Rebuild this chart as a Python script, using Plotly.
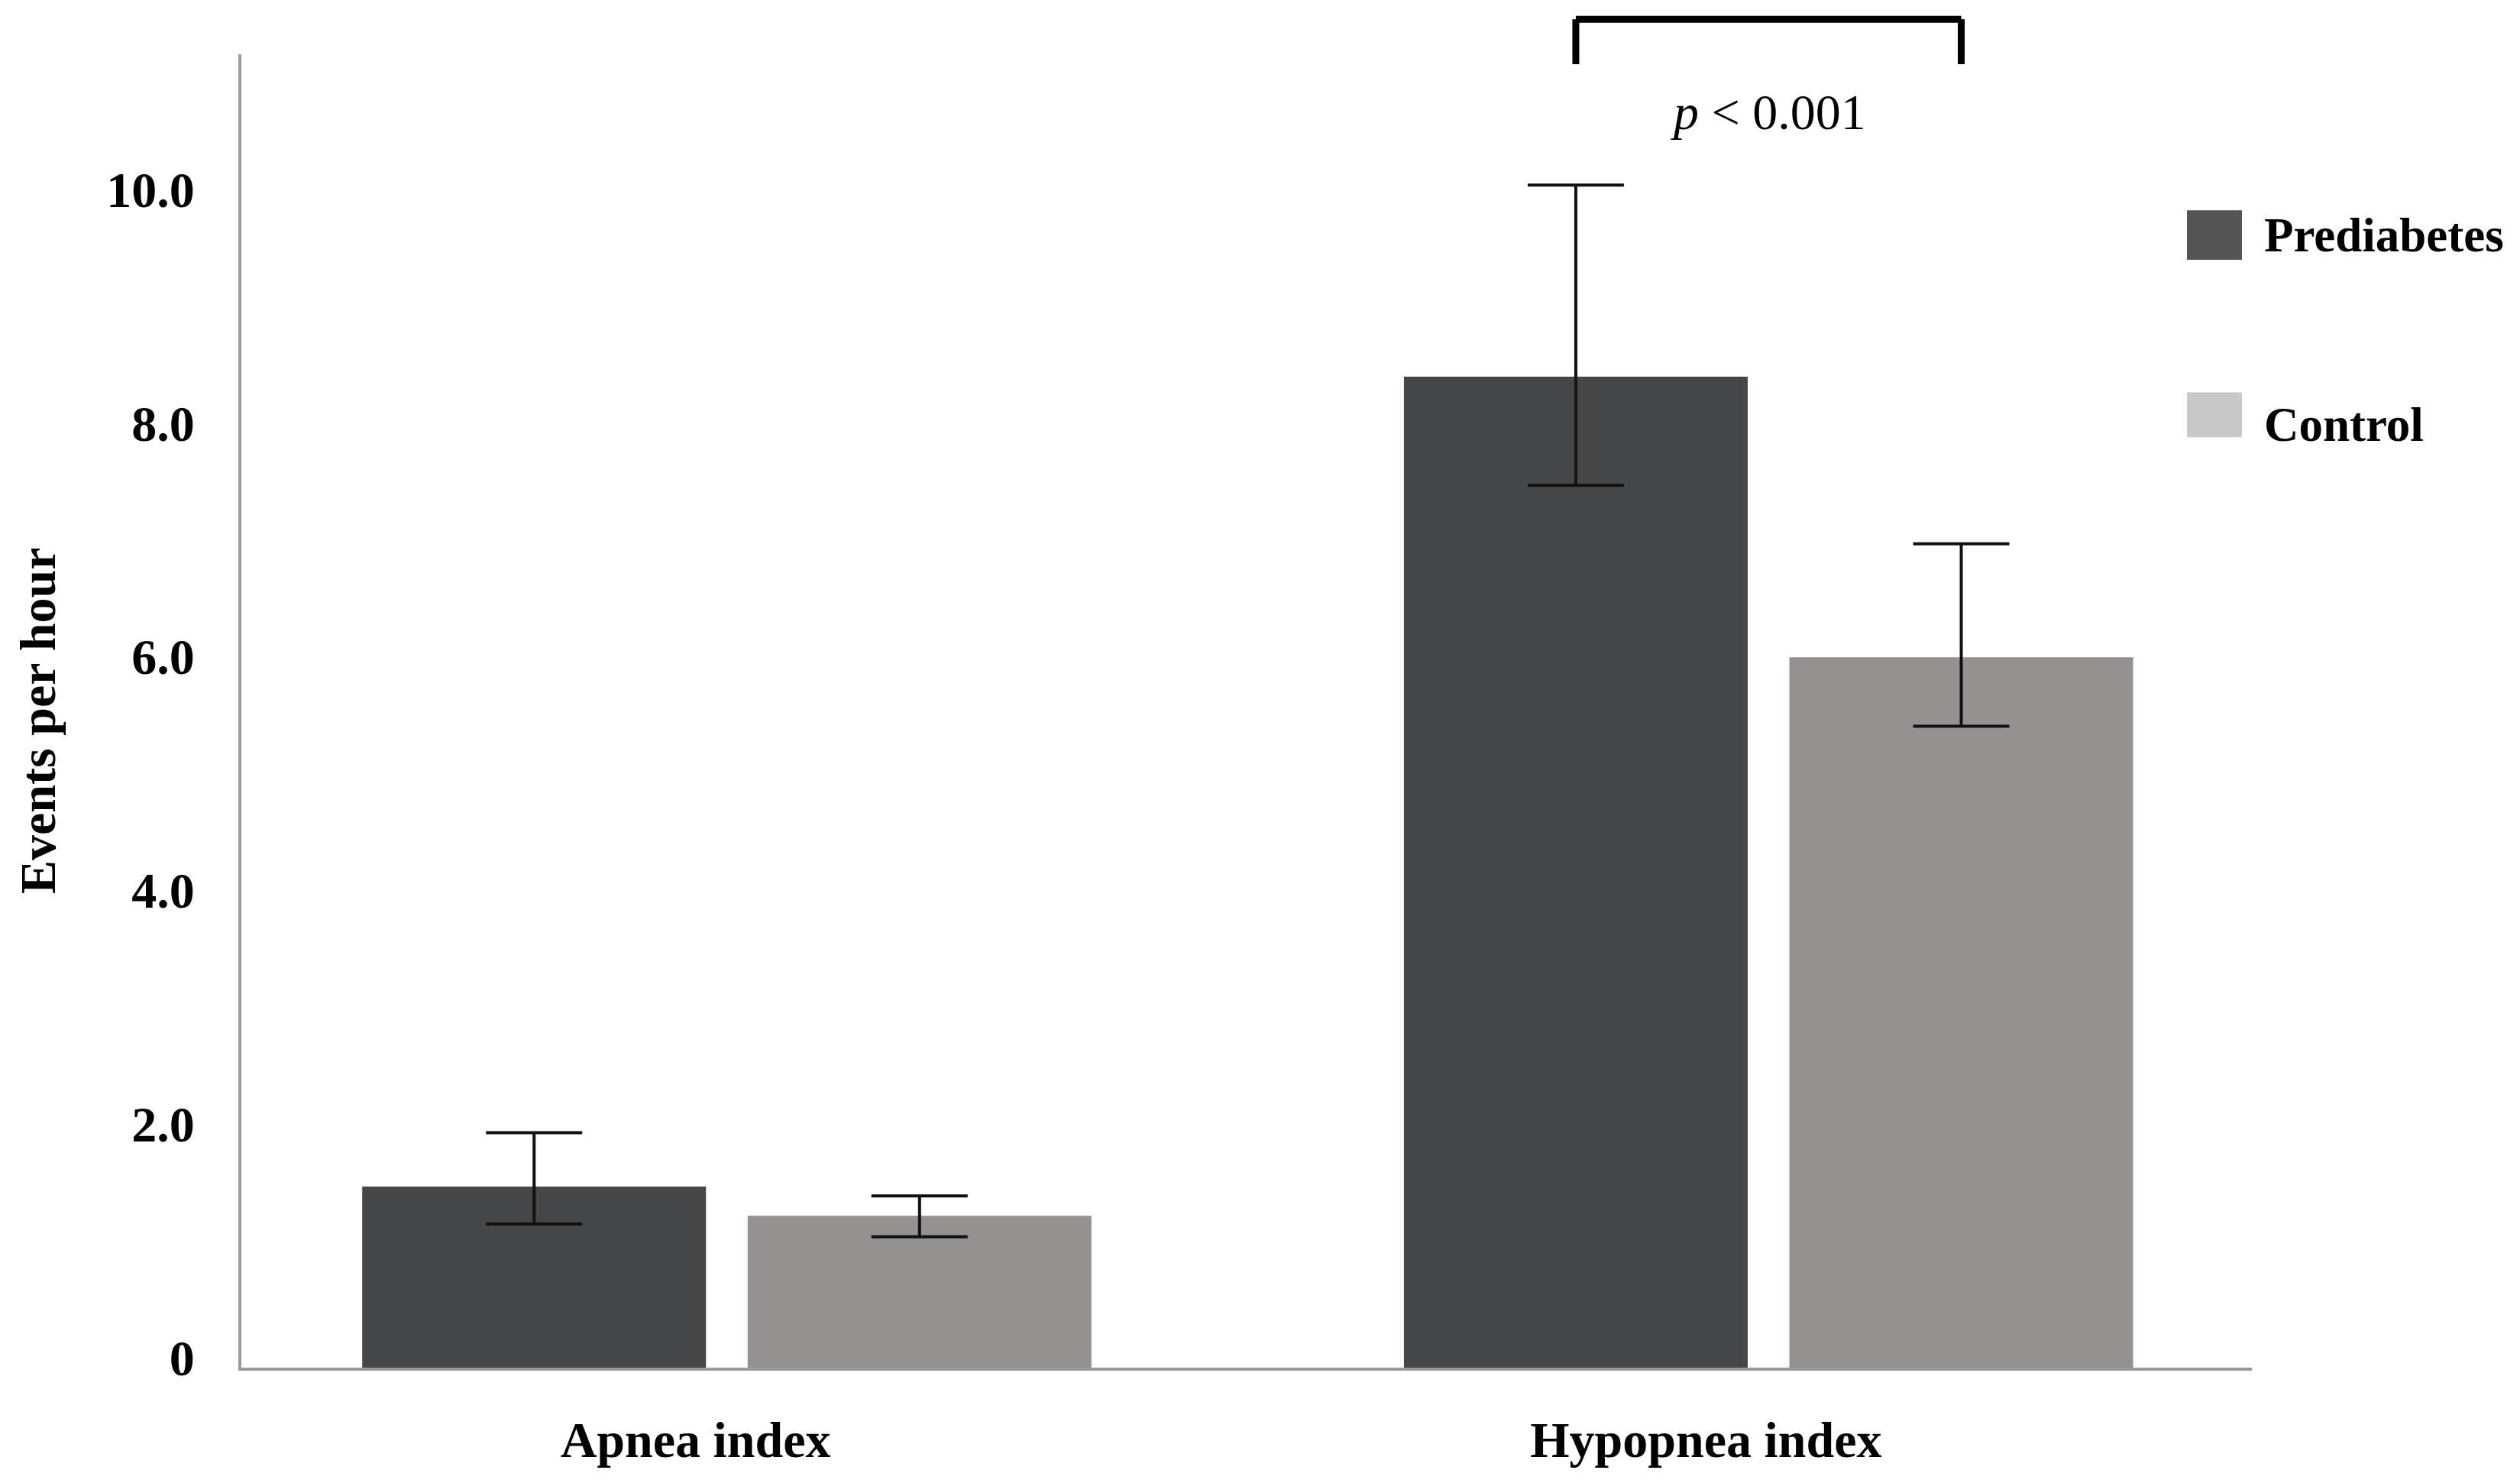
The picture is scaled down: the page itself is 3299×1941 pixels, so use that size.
import plotly.graph_objects as go

categories = ["Apnea index", "Hypopnea index"]
cat_pos = [0, 1]
label_pos = [-0.03, 0.94]
prediabetes = [1.55, 8.48]
pred_err_plus = [0.46, 1.64]
pred_err_minus = [0.32, 0.93]
control = [1.30, 6.08]
ctrl_err_plus = [0.17, 0.97]
ctrl_err_minus = [0.18, 0.59]
y_ticks = [0, 2, 4, 6, 8, 10]
y_tick_text = ["0", "2.0", "4.0", "6.0", "8.0", "10.0"]

W, H = 3299, 1941
OFF = 8  # default page body margin
FW, FH = W - 2 * OFF, H - 2 * OFF
L, R, T, B = 316, 2948, 71, 1796  # page coordinates of plot area
PW, PH = R - L, B - T

def px(x):
    return (x - L) / PW

def py(y):
    return (B - y) / PH

FONT = "Liberation Serif"
err_color = "#111111"

fig = go.Figure()
fig.add_trace(go.Bar(
    x=cat_pos, y=prediabetes, name="Prediabetes", offset=-0.35, width=0.33,
    marker=dict(color="#464749", line=dict(width=0)),
    error_y=dict(type="data", symmetric=False, array=pred_err_plus, arrayminus=pred_err_minus,
                 color=err_color, thickness=4, width=63),
    showlegend=False,
))
fig.add_trace(go.Bar(
    x=cat_pos, y=control, name="Control", offset=0.02, width=0.33,
    marker=dict(color="#959190", line=dict(width=0)),
    error_y=dict(type="data", symmetric=False, array=ctrl_err_plus, arrayminus=ctrl_err_minus,
                 color=err_color, thickness=4, width=63),
    showlegend=False,
))

fig.update_layout(
    width=FW, height=FH,
    margin=dict(l=L - OFF, r=FW - (R - OFF), t=T - OFF, b=FH - (B - OFF), pad=0),
    plot_bgcolor="white", paper_bgcolor="white",
    barmode="overlay",
    font=dict(family=FONT, size=66, color="black"),
    xaxis=dict(
        range=[-0.466, 1.464], tickvals=label_pos, ticktext=categories,
        showline=True, linecolor="#9a9a9a", linewidth=4, showgrid=False, zeroline=False,
        ticks="outside", ticklen=34, tickcolor="rgba(0,0,0,0)",
        tickfont=dict(family=FONT, size=66, color="black", weight="bold"),
    ),
    yaxis=dict(
        range=[0, 11.24], tickvals=y_ticks, ticktext=y_tick_text,
        showline=True, linecolor="#9a9a9a", linewidth=4, showgrid=False, zeroline=False,
        ticks="outside", ticklen=44, tickcolor="rgba(0,0,0,0)", ticklabelshift=-13,
        tickfont=dict(family=FONT, size=66, color="black", weight="bold"),
    ),
)

# significance bracket between hypopnea bars
x_left = 1 - 0.185
x_right = 1 + 0.185
for (xa, ya, xb, yb) in [(x_left, py(84), x_left, py(25)), (x_left, py(25), x_right, py(25)),
                         (x_right, py(25), x_right, py(84))]:
    fig.add_shape(type="line", xref="x", yref="paper", x0=xa, y0=ya, x1=xb, y1=yb,
                  line=dict(color="black", width=9))
fig.add_annotation(xref="x", yref="paper", x=1, y=py(147), text="<i>p</i> < 0.001",
                   showarrow=False, font=dict(family=FONT, size=66, color="black"),
                   xanchor="center", yanchor="middle")

# y axis title
fig.add_annotation(xref="paper", yref="paper", x=px(50), y=py(946), text="<b>Events per hour</b>",
                   textangle=-90, showarrow=False, font=dict(family=FONT, size=66, color="black"),
                   xanchor="center", yanchor="middle")

# legend (drawn)
legend_items = [("Prediabetes", "#555555", 276, 341, 309), ("Control", "#c8c8c8", 515, 574, 558)]
for name, col, y0, y1, yc in legend_items:
    fig.add_shape(type="rect", xref="paper", yref="paper", x0=px(2863), x1=px(2935),
                  y0=py(y1), y1=py(y0), fillcolor=col, line=dict(width=0))
    fig.add_annotation(xref="paper", yref="paper", x=px(2962), y=py(yc), text="<b>%s</b>" % name,
                       showarrow=False, font=dict(family=FONT, size=63, color="black"),
                       xanchor="left", yanchor="middle")

fig.write_html("out.html")
